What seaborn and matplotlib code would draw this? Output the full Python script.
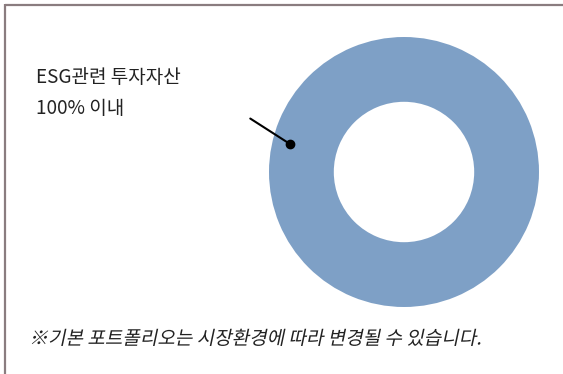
import matplotlib
matplotlib.use("Agg")
import matplotlib.pyplot as plt
import matplotlib.patheffects as pe
from matplotlib.transforms import Affine2D
from matplotlib.lines import Line2D
import seaborn as sns

# 데이터
labels = ["ESG관련 투자자산\n100% 이내"]
values = [100]
note = "※기본 포트폴리오는 시장환경에 따라 변경될 수 있습니다."

sns.set_theme(style="white")
plt.rcParams['font.family'] = ['Noto Sans CJK KR', 'DejaVu Sans']

colors = sns.color_palette(["#7ea0c6"])


# 기울임꼴 효과 (CJK 폰트에는 이탤릭이 없음)
class Slant(pe.AbstractPathEffect):
    def __init__(self, deg=12):
        super().__init__()
        self.deg = deg

    def draw_path(self, renderer, gc, tpath, affine, rgbFace=None):
        renderer.draw_path(gc, tpath, Affine2D().skew_deg(self.deg, 0) + affine, rgbFace)


W, H = 563, 374
fig = plt.figure(figsize=(W / 100, H / 100), dpi=100)
fig.patch.set_facecolor("white")

# 도넛 위치 (중심 404,172 / 반지름 135 px)
cx, cy, r = 404, 172, 135
ax = fig.add_axes([(cx - r) / W, (H - cy - r) / H, 2 * r / W, 2 * r / H])
ax.pie(values, colors=colors, radius=1, startangle=90, counterclock=False,
       wedgeprops=dict(width=0.48, edgecolor="none"))
ax.set_xlim(-1, 1)
ax.set_ylim(-1, 1)
ax.set_aspect("equal")
ax.axis("off")

# 지시선 + 점
ax.annotate("", xy=(-0.844, 0.207), xytext=(-1.156, 0.407),
            arrowprops=dict(arrowstyle="-", color="black", lw=1.5),
            annotation_clip=False)
ax.plot([-0.844], [0.207], "o", color="black", ms=6, clip_on=False)

# 라벨
fig.text(36 / W, 1 - 67 / H, labels[0], ha="left", va="top",
         fontsize=13.7, color="#222222", linespacing=1.62)

# 각주
fig.text(29 / W, 1 - 339 / H, note, ha="left", va="center",
         fontsize=13.7, color="#222222", path_effects=[Slant(12)])

# 테두리 (위, 왼쪽)
fig.add_artist(Line2D([5 / W, 1], [1 - 5 / H, 1 - 5 / H], transform=fig.transFigure,
                      color="#8a7c7f", lw=1.6, solid_capstyle="butt"))
fig.add_artist(Line2D([5 / W, 5 / W], [1 - 4.2 / H, 0], transform=fig.transFigure,
                      color="#8a7c7f", lw=1.6, solid_capstyle="butt"))

fig.savefig("out.png", dpi=100)
